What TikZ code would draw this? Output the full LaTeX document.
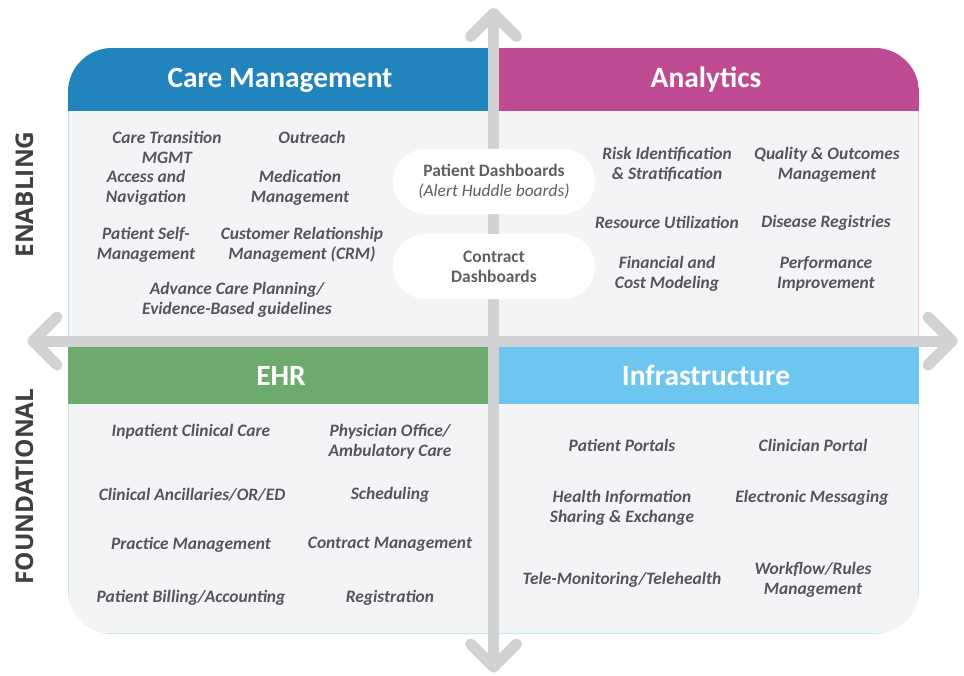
\documentclass[tikz,border=0pt]{standalone}
\usepackage{fontspec}
\setmainfont{Carlito}
\newfontfamily\sidefont{Open Sans}
\usetikzlibrary{calc}
\definecolor{cmblue}{RGB}{33,132,188}
\definecolor{anmag}{RGB}{190,75,145}
\definecolor{ehrgreen}{RGB}{108,170,110}
\definecolor{infblue}{RGB}{110,198,240}
\definecolor{bodybg}{RGB}{243,244,246}
\definecolor{axisgray}{RGB}{209,210,212}
\definecolor{itemgray}{RGB}{85,86,90}
\definecolor{pillgray}{RGB}{95,96,100}
\definecolor{sidegray}{RGB}{64,64,66}
\tikzset{
  item/.style={align=center, inner sep=0pt, text=itemgray, yshift=-1.5bp,
    font=\fontsize{17.5}{20}\selectfont\bfseries\itshape},
  headtext/.style={text=white, inner sep=0pt, anchor=base,
    font=\fontsize{29.5}{31}\selectfont\bfseries},
  pill/.style={fill=white, rounded corners=32.5bp, minimum width=202bp,
    minimum height=65bp, align=center, inner sep=0pt, text=pillgray,
    font=\fontsize{17.5}{20}\selectfont},
  axisline/.style={draw=axisgray, line width=11bp, line cap=round, line join=round},
  sidelabel/.style={rotate=90, inner sep=0pt, anchor=base, text=sidegray,
    font=\fontsize{24.5}{26}\selectfont\sidefont\bfseries}
}
\begin{document}
\begin{tikzpicture}[x=1bp,y=-1bp]
\useasboundingbox (0,0) rectangle (964,676);

% quadrant panels, clipped to the rounded outline
\begin{scope}
  \clip[rounded corners=44bp] (68,48) rectangle (919,634);
  \fill[bodybg] (68,48) rectangle (919,634);
  \draw[cmblue!30, line width=1.5bp] (68,48) rectangle (493,341);
  \draw[anmag!30, line width=1.5bp] (493,48) rectangle (919,341);
  \draw[ehrgreen!30, line width=1.5bp] (68,341) rectangle (493,634);
  \draw[infblue!40, line width=1.5bp] (493,341) rectangle (919,634);
  \fill[cmblue] (68,48) rectangle (493,111);
  \fill[anmag] (493,48) rectangle (919,111);
  \fill[ehrgreen] (68,341) rectangle (493,404);
  \fill[infblue] (493,341) rectangle (919,404);
\end{scope}

% axes
\coordinate (west) at (33,341);
\coordinate (east) at (952,341);
\coordinate (north) at (493.5,13.5);
\coordinate (south) at (493.5,667);
\draw[axisline] (west) -- (east);
\draw[axisline] (north) -- (south);
\draw[axisline] ($(west)+(24,-24)$) -- (west) -- ($(west)+(24,24)$);
\draw[axisline] ($(east)+(-24,-24)$) -- (east) -- ($(east)+(-24,24)$);
\draw[axisline] ($(north)+(-23,23)$) -- (north) -- ($(north)+(23,23)$);
\draw[axisline] ($(south)+(-23,-23)$) -- (south) -- ($(south)+(23,-23)$);

% headers
\node[headtext] (hcm) at (280,88) {Care Management};
\node[headtext] (han) at (706,88) {Analytics};
\node[headtext] (hehr) at (281,385) {EHR};
\node[headtext] (hinf) at (706,385) {Infrastructure};

% side labels
\node[sidelabel] (enab) at (33,194.5) {ENABLING};
\node[sidelabel] (found) at (33,486.5) {FOUNDATIONAL};

% dashboards
\node[pill] (pdash) at (494,181.5) {\textbf{Patient Dashboards}\\\textit{(Alert Huddle boards)}};
\node[pill] (cdash) at (494,266.5) {\textbf{Contract}\\\textbf{Dashboards}};

% care management items
\node[item] (ctm) at (167,146) {Care Transition\\MGMT};
\node[item] (outr) at (312,136) {Outreach};
\node[item] (acc) at (146,186) {Access and\\Navigation};
\node[item] (med) at (300,186) {Medication\\Management};
\node[item] (psm) at (146,243) {Patient Self-\\Management};
\node[item] (crm) at (302,243) {Customer Relationship\\Management (CRM)};
\node[item] (acp) at (237,298) {Advance Care Planning/\\Evidence-Based guidelines};

% analytics items
\node[item] (risk) at (667,163) {Risk Identification\\\& Stratification};
\node[item] (qual) at (827,163) {Quality \& Outcomes\\Management};
\node[item] (res) at (667,221) {Resource Utilization};
\node[item] (dis) at (826,221) {Disease Registries};
\node[item] (fin) at (667,272) {Financial and\\Cost Modeling};
\node[item] (perf) at (826,272) {Performance\\Improvement};

% EHR items
\node[item] (inp) at (191,430) {Inpatient Clinical Care};
\node[item] (phys) at (390,440) {Physician Office/\\Ambulatory Care};
\node[item] (anc) at (192,493) {Clinical Ancillaries/OR/ED};
\node[item] (sched) at (390,493) {Scheduling};
\node[item] (prac) at (191,543) {Practice Management};
\node[item] (cmgmt) at (390,543) {Contract Management};
\node[item] (bill) at (191,596) {Patient Billing/Accounting};
\node[item] (reg) at (390,596) {Registration};

% infrastructure items
\node[item] (pport) at (622,444) {Patient Portals};
\node[item] (cport) at (813,444) {Clinician Portal};
\node[item] (hie) at (622,506) {Health Information\\Sharing \& Exchange};
\node[item] (emsg) at (812,496) {Electronic Messaging};
\node[item] (tele) at (622,578) {Tele-Monitoring/Telehealth};
\node[item] (wf) at (813,578) {Workflow/Rules\\Management};
\end{tikzpicture}
\end{document}
